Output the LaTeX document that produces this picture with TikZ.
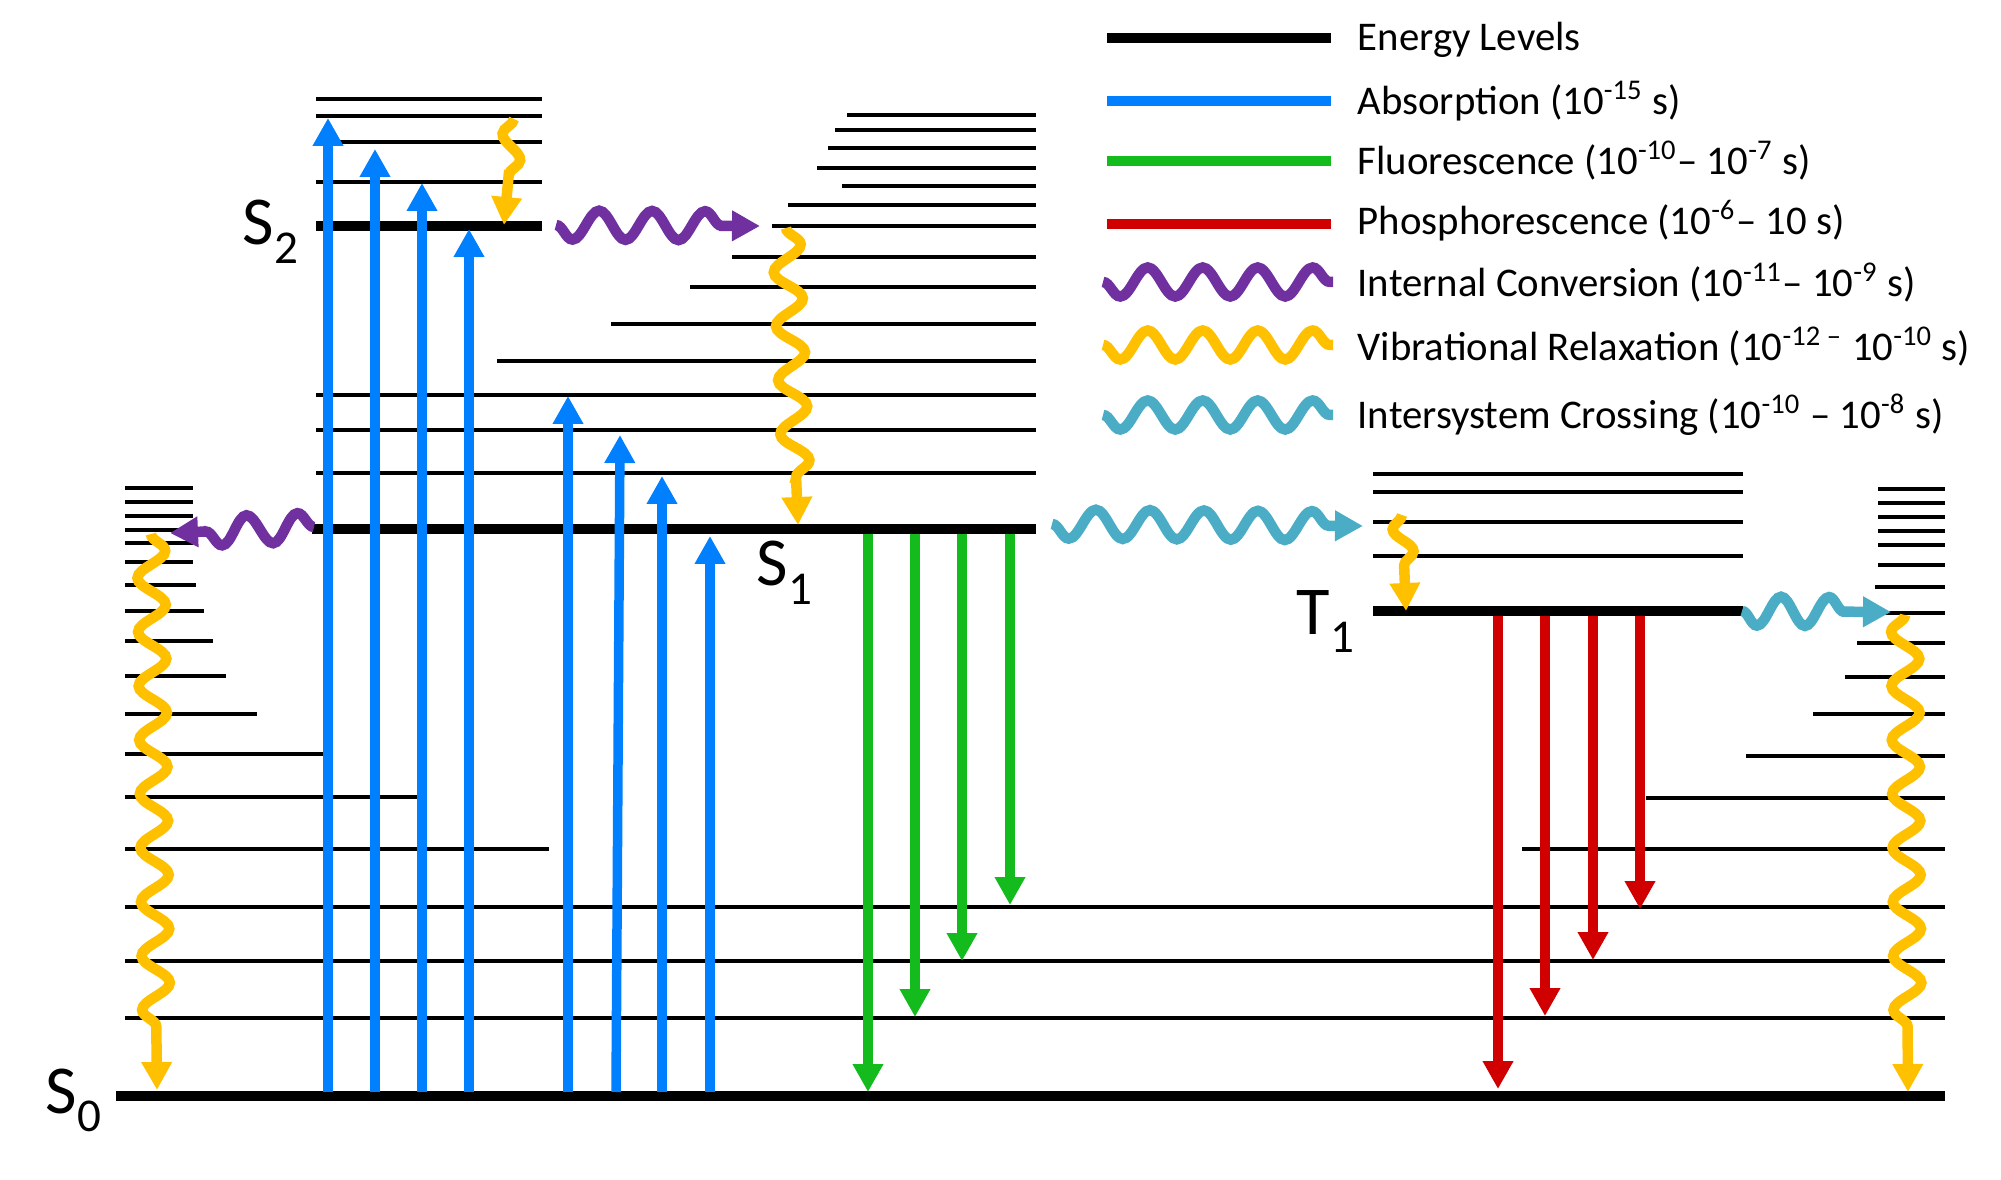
\documentclass[tikz,border=0pt]{standalone}
\usepackage{fontspec}
\setmainfont{Carlito}
\usetikzlibrary{arrows.meta,decorations.pathmorphing}
\definecolor{absblue}{RGB}{0,128,255}
\definecolor{flgreen}{RGB}{19,187,28}
\definecolor{phred}{RGB}{208,0,0}
\definecolor{icpurple}{RGB}{112,48,160}
\definecolor{vryellow}{RGB}{255,192,0}
\definecolor{iscblue}{RGB}{75,172,198}
\newcommand{\levsub}[1]{\raisebox{-1.85mm}{\fontsize{13.4}{14}\selectfont #1}}

\begin{document}
\begin{tikzpicture}
[x=0.1mm,y=-0.1mm,>={Triangle[length=2.8mm,width=2.9mm]},
vib/.style={line width=0.42mm},
elstate/.style={line width=0.93mm},
radarrow/.style={line width=0.95mm,->},
wave/.style={line width=1.05mm,decorate,
  decoration={snake,amplitude=-1.45mm,segment length=5.5mm,post length=0mm}},
wavearrow/.style={wave,->,decoration={post length=4mm}},
legline/.style={line width=1mm},
legtext/.style={anchor=base west,inner sep=0pt,font=\fontsize{11.6}{14}\selectfont},
statelab/.style={anchor=base west,inner sep=0pt,font=\fontsize{19.5}{22}\selectfont}]
\useasboundingbox (0,0) rectangle (2001,1180);

% S0 and its vibrational levels
\draw[elstate] (116,1096) -- (1945,1096);
\foreach \y in {907,961,1018}
  \draw[vib] (125,\y) -- (1945,\y);
\foreach \y/\xb in {488/193,502/193,516/193,530/193,543/193,562/193,585/196,611/204,
    641/213,676/226,714/257,754/323,797/419,849/549}
  \draw[vib] (125,\y) -- (\xb,\y);
\foreach \y/\xa in {489/1878,503/1878,517/1878,531/1878,545/1878,565/1878,587/1875,
    613/1878,643/1857,677/1845,714/1813,756/1746,798/1646,849/1522}
  \draw[vib] (\xa,\y) -- (1945,\y);

% S2
\foreach \y in {99,116,142,182}
  \draw[vib] (316,\y) -- (542,\y);
\draw[elstate] (316,226) -- (542,226);

% S1
\foreach \y/\xa in {115/847,130/835,148/828,168/817,186/842,205/788,226/772,257/732,
    287/690,324/611,361/497,395/316,430/316,473/316}
  \draw[vib] (\xa,\y) -- (1036,\y);
\draw[elstate] (312,529) -- (1036,529);

% T1
\foreach \y in {474,492,522,556}
  \draw[vib] (1373,\y) -- (1743,\y);
\draw[elstate] (1373,611) -- (1743,611);

% absorption
\foreach \x/\y in {328/118,375/149,422/183,469/229,568/396,662/476,710/536}
  \draw[radarrow,absblue] (\x,1092) -- (\x,\y);
\draw[radarrow,absblue] (616,1092) -- (620,435);

% fluorescence
\foreach \x/\y in {868/1092,915/1017,962/961,1010/905}
  \draw[radarrow,flgreen] (\x,534) -- (\x,\y);

% phosphorescence
\foreach \x/\y in {1498/1089,1545/1016,1593/960,1640/909}
  \draw[radarrow,phred] (\x,616) -- (\x,\y);

% internal conversion
\draw[wavearrow,icpurple,decoration={segment length=5.3mm,post length=3.5mm}]
  (556,225) -- (760,226);
\draw[wavearrow,icpurple,decoration={segment length=5.1mm,post length=3.3mm}]
  (314,527) -- (170,533);

% intersystem crossing
\draw[wavearrow,iscblue,decoration={segment length=5.4mm,post length=3.1mm}]
  (1052,524) -- (1363,526);
\draw[wavearrow,iscblue,decoration={segment length=4.8mm}]
  (1742,611) -- (1891,612);

% vibrational relaxation
\draw[wavearrow,vryellow,decoration={amplitude=-1mm,segment length=5mm}]
  (514,119) -- (504,225);
\draw[wavearrow,vryellow,decoration={amplitude=1.4mm,segment length=5.4mm}]
  (786,228) -- (798,525);
\draw[wavearrow,vryellow,decoration={amplitude=1.4mm,segment length=5.4mm}]
  (151,534) -- (157,1090);
\draw[wavearrow,vryellow,decoration={amplitude=-1mm,segment length=4.5mm}]
  (1402,515) -- (1406,611);
\draw[wavearrow,vryellow,decoration={amplitude=-1.4mm,segment length=5.4mm}]
  (1905,615) -- (1908,1092);

% state labels
\node[statelab] (s0lab) at (45,1113) {S\levsub{0}};
\node[statelab] (s1lab) at (756,586) {S\levsub{1}};
\node[statelab] (s2lab) at (242,245) {S\levsub{2}};
\node[statelab] (t1lab) at (1296,634) {T\levsub{1}};

% legend
\draw[legline] (1107,38) -- (1331,38);
\draw[legline,absblue] (1107,101) -- (1331,101);
\draw[legline,flgreen] (1107,161) -- (1331,161);
\draw[legline,phred] (1107,224) -- (1331,224);
\draw[wave,icpurple] (1103,282) -- (1333,282);
\draw[wave,vryellow] (1103,345) -- (1333,345);
\draw[wave,iscblue] (1103,415) -- (1333,415);

\node[legtext] (lgenergy) at (1357,51) {Energy Levels};
\node[legtext] (lgabs) at (1357,115) {Absorption (10\textsuperscript{-15} s)};
\node[legtext] (lgfluor) at (1357,175) {Fluorescence (10\textsuperscript{-10}– 10\textsuperscript{-7} s)};
\node[legtext] (lgphos) at (1357,235) {Phosphorescence (10\textsuperscript{-6}– 10 s)};
\node[legtext] (lgic) at (1357,297) {Internal Conversion (10\textsuperscript{-11}– 10\textsuperscript{-9} s)};
\node[legtext] (lgvr) at (1357,361) {Vibrational Relaxation (10\textsuperscript{-12 –} 10\textsuperscript{-10} s)};
\node[legtext] (lgisc) at (1357,429) {Intersystem Crossing (10\textsuperscript{-10} – 10\textsuperscript{-8} s)};
\end{tikzpicture}
\end{document}
